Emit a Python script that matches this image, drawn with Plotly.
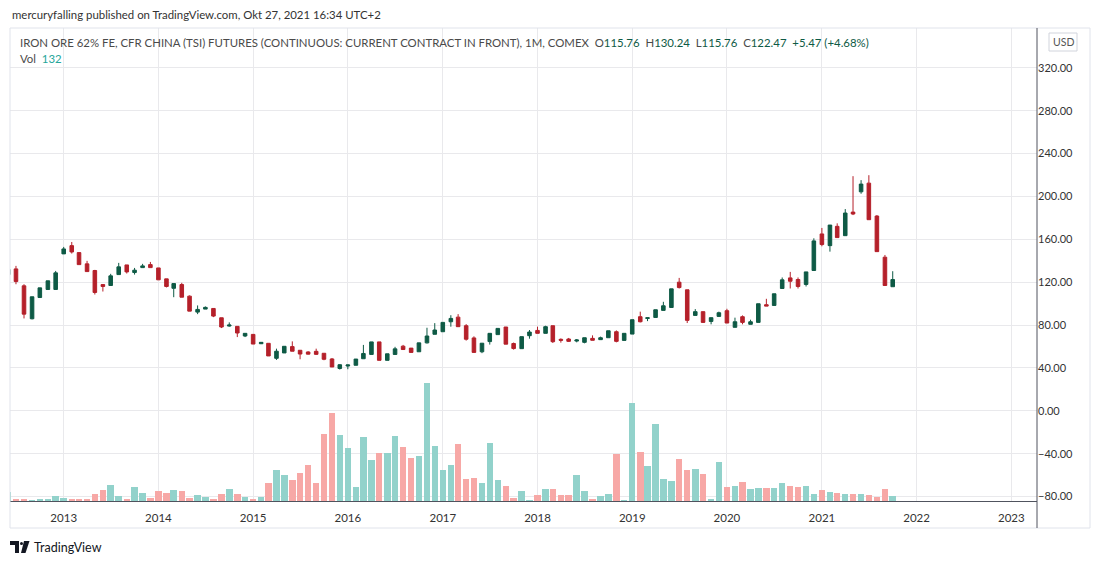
import pandas as pd
import plotly.graph_objects as go

# monthly bars, Jun 2012 .. Oct 2021
months = pd.date_range("2012-06-01", "2021-10-01", freq="MS")

opens = [
    127.0, 132.4, 116.6, 85.9, 105.7, 113.2, 113.2,
    146.4, 154.1, 147.6, 137.1, 130.9, 117.8, 116.9, 127.1, 136.1, 129.0, 133.6, 136.4,
    133.3, 123.1, 114.3, 117.8, 107.0, 92.1, 94.9, 95.5, 86.8, 79.1, 78.8, 69.8,
    71.3, 62.6, 63.0, 49.0, 54.0, 59.9, 56.5, 54.9, 55.5, 53.7, 48.4, 39.5,
    41.8, 42.5, 48.6, 52.6, 64.3, 47.1, 52.6, 60.3, 58.5, 55.1, 63.4, 71.4,
    73.8, 83.1, 87.4, 79.4, 68.0, 55.1, 64.6, 71.1, 78.2, 62.8, 58.0, 70.1,
    75.0, 72.3, 79.4, 66.7, 67.0, 65.1, 63.9, 67.6, 66.4, 68.2, 73.8, 65.7,
    71.6, 87.8, 86.2, 87.1, 93.7, 96.4, 120.0, 112.9, 89.0, 92.5, 83.4, 88.1,
    93.4, 77.9, 87.8, 80.7, 82.5, 99.0, 98.3, 114.1, 124.0, 122.5, 117.9, 130.9,
    165.0, 154.1, 172.1, 163.4, 185.4, 204.3, 212.4, 181.7, 143.3, 115.76,
]
highs = [
    135.0, 135.2, 118.1, 106.4, 114.7, 121.3, 130.5,
    152.9, 157.5, 147.6, 139.9, 131.5, 117.8, 127.8, 138.0, 136.1, 133.3, 137.1, 138.9,
    133.3, 123.1, 118.7, 119.4, 107.6, 98.3, 97.4, 95.5, 86.8, 82.5, 78.8, 72.3,
    71.7, 63.9, 63.0, 58.0, 60.2, 64.8, 56.5, 55.6, 58.0, 53.7, 49.3, 43.5,
    43.0, 48.3, 61.5, 64.3, 64.3, 53.2, 59.7, 61.5, 58.5, 63.4, 77.5, 81.8,
    82.5, 89.2, 90.2, 80.9, 69.5, 63.1, 72.3, 76.9, 78.2, 63.7, 69.2, 75.4,
    78.5, 79.4, 79.4, 67.6, 68.0, 67.0, 68.2, 70.4, 69.2, 74.7, 75.0, 72.3,
    85.0, 92.5, 86.8, 94.3, 101.7, 113.8, 124.0, 112.9, 94.9, 92.5, 86.9, 92.5,
    95.2, 86.9, 89.0, 85.0, 99.9, 104.5, 109.2, 124.4, 129.6, 124.4, 129.6, 160.9,
    170.6, 173.3, 174.9, 188.2, 218.9, 215.2, 219.8, 182.6, 145.4, 130.24,
]
lows = [
    125.0, 118.1, 86.2, 85.3, 105.7, 113.0, 113.2,
    146.4, 146.7, 136.4, 129.9, 108.5, 111.3, 116.9, 127.1, 128.1, 127.1, 133.6, 133.6,
    122.2, 115.1, 106.0, 106.0, 93.0, 90.2, 94.9, 87.4, 77.2, 78.5, 68.8, 68.8,
    62.3, 62.3, 51.2, 47.5, 54.0, 55.6, 48.1, 52.6, 52.1, 47.2, 40.9, 38.5,
    38.8, 42.5, 48.6, 52.6, 47.1, 47.1, 52.6, 57.2, 54.5, 55.1, 62.8, 71.4,
    73.8, 78.5, 78.5, 65.5, 54.5, 53.8, 61.8, 71.1, 62.2, 57.1, 58.0, 67.3,
    72.3, 72.3, 63.3, 63.6, 64.2, 63.9, 63.0, 65.8, 66.4, 68.2, 63.9, 65.7,
    71.6, 82.5, 83.7, 87.1, 93.7, 96.4, 114.1, 81.9, 89.0, 82.0, 80.7, 87.5,
    81.9, 77.9, 80.7, 80.7, 82.5, 97.7, 98.3, 114.1, 114.1, 114.1, 116.0, 130.9,
    153.5, 148.5, 161.6, 163.4, 182.6, 202.5, 178.3, 148.5, 116.9, 115.76,
]
closes = [
    132.0, 120.6, 90.2, 106.4, 114.7, 121.3, 128.7,
    151.0, 148.2, 136.4, 129.9, 110.4, 116.0, 125.9, 134.3, 129.6, 131.2, 135.2, 133.6,
    122.2, 116.0, 118.7, 106.0, 93.0, 94.6, 96.5, 88.4, 78.2, 80.0, 72.6, 72.3,
    62.3, 63.9, 51.2, 55.6, 60.2, 55.6, 53.0, 52.9, 52.7, 48.1, 40.9, 43.0,
    42.8, 48.3, 53.5, 64.3, 47.1, 53.2, 57.8, 57.2, 54.5, 63.4, 69.8, 75.4,
    82.5, 86.2, 78.5, 66.8, 54.5, 63.1, 72.3, 76.9, 62.2, 58.1, 69.2, 73.5,
    72.3, 78.5, 64.5, 65.8, 64.8, 66.1, 68.2, 65.8, 68.2, 74.7, 64.8, 72.3,
    85.0, 83.1, 86.8, 94.3, 98.0, 113.8, 115.0, 84.4, 92.5, 82.5, 86.9, 91.5,
    81.9, 83.1, 82.5, 83.1, 99.9, 97.7, 109.2, 122.2, 120.9, 116.0, 129.6, 158.5,
    155.1, 173.3, 161.6, 184.5, 183.6, 211.5, 178.3, 148.5, 116.9, 122.47,
]
volumes = [
    225, 32, 32, 25, 50, 50, 125,
    75, 50, 50, 50, 175, 275, 400, 125, 32, 350, 200, 82,
    250, 200, 275, 250, 75, 150, 100, 50, 175, 300, 175, 100,
    50, 100, 450, 775, 650, 525, 700, 900, 450, 1675, 2200, 1650,
    1325, 350, 1600, 1025, 1200, 1200, 1625, 1350, 1075, 1125, 2950, 1375,
    775, 900, 1425, 550, 575, 450, 1450, 525, 375, 75, 250, 25,
    150, 300, 300, 150, 150, 650, 250, 50, 125, 175, 1175, 25,
    2450, 1225, 875, 1925, 550, 500, 1050, 775, 800, 675, 50, 975,
    350, 375, 475, 300, 325, 325, 325, 450, 375, 350, 375, 175,
    275, 225, 200, 175, 175, 175, 150, 100, 300, 132,
]

year_ticks = [f"{y}-01-01" for y in range(2013, 2024)]
year_labels = [str(y) for y in range(2013, 2024)]
price_ticks = [-80, -40, 0, 40, 80, 120, 160, 200, 240, 280, 320]
price_labels = [f"{v:.2f}".replace("-", "\u2212") for v in price_ticks]

UP = "#0e5a45"
DOWN = "#b5202a"
UP_VOL = "#92d2cb"
DOWN_VOL = "#f7a8a6"
FONT = "Lato, Liberation Sans, sans-serif"

# plot area in pixels (1100 x 564 page)
L, R, T, B = 10, 1037, 28, 501


def px(x):
    return (x - L) / (R - L)


def py(y):
    return (B - y) / (B - T)


vol_colors = [UP_VOL if c >= o else DOWN_VOL for o, c in zip(opens, closes)]

fig = go.Figure()
fig.add_trace(go.Bar(x=months, y=volumes, marker_color=vol_colors, marker_line_width=0,
                     width=25 * 86400000, yaxis="y2", hoverinfo="skip"))
fig.add_trace(go.Candlestick(x=months, open=opens, high=highs, low=lows, close=closes,
                             increasing=dict(line=dict(color=UP, width=1), fillcolor=UP),
                             decreasing=dict(line=dict(color=DOWN, width=1), fillcolor=DOWN),
                             whiskerwidth=0))

green = "#0e5a45"
grey = "#4a4a4a"
legend = (
    f"<span style='color:{grey}'>IRON ORE 62% FE, CFR CHINA (TSI) FUTURES (CONTINUOUS: CURRENT CONTRACT IN FRONT), 1M, COMEX</span>"
    f"\u00a0\u00a0<span style='color:{grey}'>O</span><span style='color:{green}'>115.76</span>"
    f"\u00a0\u00a0<span style='color:{grey}'>H</span><span style='color:{green}'>130.24</span>"
    f"\u00a0\u00a0<span style='color:{grey}'>L</span><span style='color:{green}'>115.76</span>"
    f"\u00a0\u00a0<span style='color:{grey}'>C</span><span style='color:{green}'>122.47</span>"
    f"\u00a0\u00a0<span style='color:{green}'>+5.47 (+4.68%)</span>"
)

annotations = [
    dict(x=px(10), y=py(14), text="mercuryfalling published on TradingView.com, Okt 27, 2021 16:34 UTC+2",
         font=dict(size=11.4, color="#333333")),
    dict(x=px(18), y=py(42), text=legend, font=dict(size=11.4, color=grey)),
    dict(x=px(18), y=py(58), text=f"<span style='color:{grey}'>Vol</span>\u00a0\u00a0<span style='color:#26a69a'>132</span>",
         font=dict(size=11.4)),
    dict(x=px(1063), y=py(42), text="USD", xanchor="center", font=dict(size=10.5, color="#555555")),
    dict(x=px(32), y=py(547), text="TradingView", font=dict(size=12.5, color="#131722")),
]
for a in annotations:
    a.setdefault("xanchor", "left")
    a.update(xref="paper", yref="paper", yanchor="middle", showarrow=False)

shapes = [
    # outer frame and price-scale separator
    dict(type="rect", x0=px(10), x1=px(1090), y0=py(528), y1=py(28), line=dict(color="#e0e3eb", width=1)),
    dict(type="line", x0=1, x1=1, y0=py(528), y1=1, line=dict(color="#50535e", width=1)),
    dict(type="rect", x0=px(1049), x1=px(1077), y0=py(51), y1=py(33), line=dict(color="#d1d4dc", width=1),
         fillcolor="white"),
    # TradingView logo
    dict(type="rect", x0=px(10), x1=px(19), y0=py(545), y1=py(541), line_width=0, fillcolor="#131722"),
    dict(type="rect", x0=px(15), x1=px(19), y0=py(553), y1=py(541), line_width=0, fillcolor="#131722"),
    dict(type="circle", x0=px(20), x1=px(23), y0=py(545), y1=py(542), line_width=0, fillcolor="#131722"),
    dict(type="path", path=f"M {px(24)} {py(541)} L {px(29.5)} {py(541)} L {px(25.5)} {py(553)} L {px(21)} {py(553)} Z",
         line_width=0, fillcolor="#131722"),
]
for s in shapes:
    s.update(xref="paper", yref="paper")

fig.update_layout(
    width=1100, height=564,
    margin=dict(l=L, r=1100 - R, t=T, b=564 - B),
    paper_bgcolor="white", plot_bgcolor="white",
    showlegend=False,
    font=dict(family=FONT, size=11, color="#333333"),
    xaxis=dict(type="date", range=["2012-06-08", "2023-04-10"], rangeslider=dict(visible=False),
               tickvals=year_ticks, ticktext=year_labels, showgrid=True, gridcolor="#e9e9ec",
               showline=True, linecolor="#50535e", linewidth=1, zeroline=False,
               ticks="", ticklabelstandoff=6, tickfont=dict(size=11.5, color="#333333")),
    yaxis=dict(range=[-84.1, 357.1], side="right", tickvals=price_ticks, ticktext=price_labels,
               showgrid=True, gridcolor="#e9e9ec", zeroline=False, ticks="",
               tickfont=dict(size=11, color="#333333")),
    yaxis2=dict(range=[0, 11825], overlaying="y", visible=False, fixedrange=True),
    annotations=annotations,
    shapes=shapes,
    bargap=0,
)

# the page's default body margin would shift the whole figure by 8px
fig.write_html("out.html", config={"displayModeBar": False},
               post_script="document.body.style.margin='0';")
